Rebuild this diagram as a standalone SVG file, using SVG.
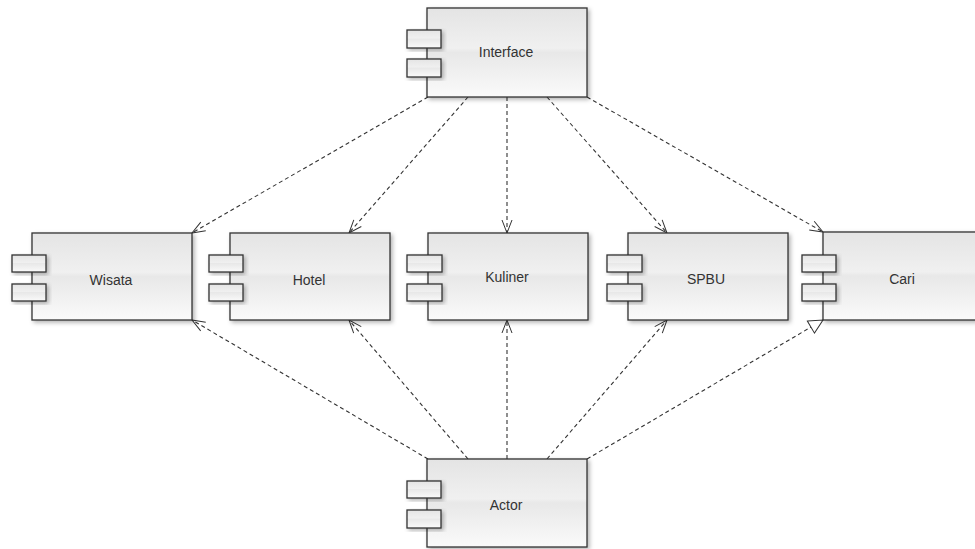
<svg xmlns="http://www.w3.org/2000/svg" width="975" height="549" viewBox="0 0 975 549">
<defs>
<linearGradient id="g" x1="0" y1="0" x2="0" y2="1">
<stop offset="0" stop-color="#e4e4e4"/>
<stop offset="0.45" stop-color="#f0f0f0"/>
<stop offset="0.5" stop-color="#e8e8e8"/>
<stop offset="1" stop-color="#fafafa"/>
</linearGradient>
<filter id="sh" x="-10%" y="-10%" width="125%" height="130%">
<feDropShadow dx="2" dy="2" stdDeviation="2" flood-color="#000" flood-opacity="0.3"/>
</filter>
<marker id="open" markerUnits="userSpaceOnUse" markerWidth="18" markerHeight="14" refX="14" refY="7" orient="auto" viewBox="0 0 18 14">
<path d="M1,2 L14,7 L1,12" fill="none" stroke="#333" stroke-width="1"/>
</marker>
<marker id="tri" markerUnits="userSpaceOnUse" markerWidth="18" markerHeight="18" refX="16" refY="9" orient="auto" viewBox="0 0 18 18">
<path d="M2,2 L16,9 L2,16 Z" fill="#fff" stroke="#333" stroke-width="1"/>
</marker>
</defs>
<style>
.box{fill:url(#g);stroke:#333;stroke-width:1.3;filter:url(#sh)}
.port{fill:url(#g);stroke:#333;stroke-width:1.3;filter:url(#sh)}
.lbl{font-family:"Liberation Sans",Arial,sans-serif;font-size:14px;fill:#333;text-anchor:middle}
.dep{stroke:#333;stroke-width:1.1;stroke-dasharray:4 3;fill:none}
</style>
<rect width="975" height="549" fill="#fff"/>
<g id="connectors">
<line class="dep" x1="428" y1="97" x2="192" y2="233" marker-end="url(#open)"/>
<line class="dep" x1="468" y1="97" x2="349" y2="233" marker-end="url(#open)"/>
<line class="dep" x1="507" y1="97" x2="507" y2="233" marker-end="url(#open)"/>
<line class="dep" x1="547" y1="97" x2="667" y2="233" marker-end="url(#open)"/>
<line class="dep" x1="587" y1="97" x2="823" y2="232" marker-end="url(#open)"/>
<line class="dep" x1="428" y1="459" x2="192" y2="320" marker-end="url(#open)"/>
<line class="dep" x1="468" y1="459" x2="349" y2="320" marker-end="url(#open)"/>
<line class="dep" x1="507" y1="459" x2="507" y2="320" marker-end="url(#open)"/>
<line class="dep" x1="547" y1="459" x2="667" y2="320" marker-end="url(#open)"/>
<line class="dep" x1="587" y1="459" x2="823" y2="320" marker-end="url(#tri)"/>
</g>
<g id="interface">
<rect class="box" x="427" y="8" width="160" height="89"/>
<rect class="port" x="407" y="30" width="34" height="18"/>
<rect class="port" x="407" y="59" width="34" height="18"/>
<text class="lbl" x="506" y="57">Interface</text>
</g>
<g id="wisata">
<rect class="box" x="32" y="233" width="160" height="87"/>
<rect class="port" x="12" y="255" width="34" height="17"/>
<rect class="port" x="12" y="284" width="34" height="17"/>
<text class="lbl" x="111" y="285">Wisata</text>
</g>
<g id="hotel">
<rect class="box" x="230" y="233" width="160" height="87"/>
<rect class="port" x="209" y="255" width="34" height="17"/>
<rect class="port" x="209" y="284" width="34" height="17"/>
<text class="lbl" x="309" y="285">Hotel</text>
</g>
<g id="kuliner">
<rect class="box" x="428" y="233" width="160" height="87"/>
<rect class="port" x="407" y="255" width="35" height="17"/>
<rect class="port" x="407" y="284" width="35" height="17"/>
<text class="lbl" x="507" y="282">Kuliner</text>
</g>
<g id="spbu">
<rect class="box" x="628" y="233" width="160" height="87"/>
<rect class="port" x="607" y="255" width="35" height="17"/>
<rect class="port" x="607" y="284" width="35" height="17"/>
<text class="lbl" x="706" y="284">SPBU</text>
</g>
<g id="cari">
<rect class="box" x="823" y="232" width="160" height="88"/>
<rect class="port" x="802" y="255" width="34" height="17"/>
<rect class="port" x="802" y="284" width="34" height="17"/>
<text class="lbl" x="902" y="284">Cari</text>
</g>
<g id="actor">
<rect class="box" x="427" y="459" width="160" height="88"/>
<rect class="port" x="407" y="481" width="34" height="17"/>
<rect class="port" x="407" y="510" width="34" height="18"/>
<text class="lbl" x="506" y="510">Actor</text>
</g>
</svg>
